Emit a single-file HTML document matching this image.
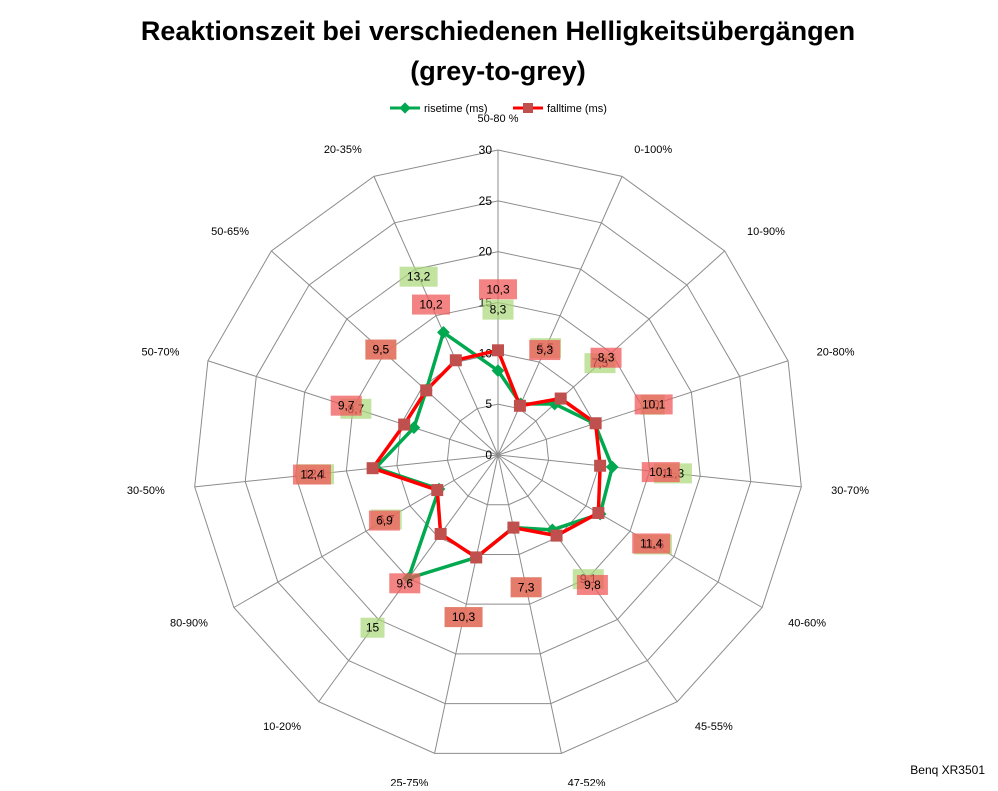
<!DOCTYPE html>
<html><head><meta charset="utf-8"><style>
body{margin:0;background:#fff;width:998px;height:786px;overflow:hidden;font-family:"Liberation Sans",sans-serif}
</style></head><body>
<svg width="998" height="786">
<text x="498" y="40" text-anchor="middle" font-size="27" font-weight="bold">Reaktionszeit bei verschiedenen Helligkeitsübergängen</text>
<text x="498" y="80" text-anchor="middle" font-size="27" font-weight="bold">(grey-to-grey)</text>
<g font-size="11">
<line x1="390" y1="108" x2="420" y2="108" stroke="#00a84f" stroke-width="3"/><rect x="401" y="104" width="8" height="8" fill="#00a84f" transform="rotate(45 405 108)"/>
<text x="424" y="112">risetime (ms)</text>
<line x1="513" y1="108" x2="543" y2="108" stroke="#ff0000" stroke-width="3"/><rect x="523" y="103" width="10" height="10" fill="#c0504d"/>
<text x="547" y="112">falltime (ms)</text>
</g>
<g id="grid"></g><g id="series"></g><g id="labels"></g>
<text x="985" y="774" text-anchor="end" font-size="12">Benq XR3501</text>
</svg>
<script>
const categories=["50-80 %","0-100%","10-90%","20-80%","30-70%","40-60%","45-55%","47-52%","25-75%","10-20%","80-90%","30-50%","50-70%","50-65%","20-35%"];
const rise=[8.3,5.5,7.5,10.0,11.3,11.6,9.1,7.3,10.3,15,6.7,12.1,8.7,9.5,13.2];
const fall=[10.3,5.3,8.3,10.1,10.1,11.4,9.8,7.3,10.3,9.6,6.9,12.4,9.7,9.5,10.2];
const ticks=[0,5,10,15,20,25,30];
const cx=498,cy=455,R=305,maxV=30,NS="http://www.w3.org/2000/svg";
const n=categories.length;
function ang(i){return -Math.PI/2+i*2*Math.PI/n;}
function pt(i,v){const r=v/maxV*R;return [cx+r*Math.cos(ang(i)),cy+r*Math.sin(ang(i))];}
function mk(tag,attrs,parent){const e=document.createElementNS(NS,tag);for(const k in attrs)e.setAttribute(k,attrs[k]);parent.appendChild(e);return e;}
const grid=document.getElementById('grid');
ticks.forEach(t=>{if(t===0)return;
 const p=mk('polygon',{points:categories.map((c,i)=>pt(i,t).join(',')).join(' '),fill:'none',stroke:'#8c8c8c','stroke-width':1},grid);
 
 });
categories.forEach((c,i)=>{const [x,y]=pt(i,maxV);
 const l=mk('line',{x1:cx,y1:cy,x2:x,y2:y,stroke:'#8c8c8c','stroke-width':1},grid);
 
 
 const a=ang(i),r=R+30;const tx=cx+r*Math.cos(a),ty=cy+r*Math.sin(a)+4;
 const t=mk('text',{x:tx,y:ty,'text-anchor':Math.abs(Math.cos(a))<0.2?'middle':(Math.cos(a)>0?'start':'end'),'font-size':11},grid);
 if(i===0)t.setAttribute('y',ty-2);
 t.textContent=c;
 
 });
ticks.forEach(t=>{const [x,y]=pt(0,t);const e=mk('text',{x:x-6,y:y+4,'text-anchor':'end','font-size':12},grid);e.textContent=t;
 
 });
const ser=document.getElementById('series'),lab=document.getElementById('labels');
function draw(vals,color,isFall){
 const pts=vals.map((v,i)=>pt(i,v));
 const pl=mk('polygon',{points:pts.map(p=>p.join(',')).join(' '),fill:'none',stroke:color,'stroke-width':3.5},ser);
 
 
 pts.forEach((p,i)=>{let m;
  if(isFall)m=mk('rect',{x:p[0]-6,y:p[1]-6,width:12,height:12,fill:'#c0504d'},ser);
  else m=mk('rect',{x:p[0]-4.5,y:p[1]-4.5,width:9,height:9,fill:'#00a84f',transform:`rotate(45 ${p[0]} ${p[1]})`},ser);
  
  
  const [lx,ly]=pt(i,vals[i]+6);
  const txt=String(vals[i]).replace('.',',');const w=txt.length*7+10;
  const b=mk('rect',{x:lx-w/2,y:ly-10,width:w,height:20,fill:isFall?'rgba(240,90,90,0.75)':'rgba(170,215,120,0.7)'},lab);
  
  
  const t=mk('text',{x:lx,y:ly+4,'text-anchor':'middle','font-size':12},lab);t.textContent=txt;
  
  });
}
draw(rise,'#00a84f',false);
draw(fall,'#ff0000',true);
</script>
</body></html>
